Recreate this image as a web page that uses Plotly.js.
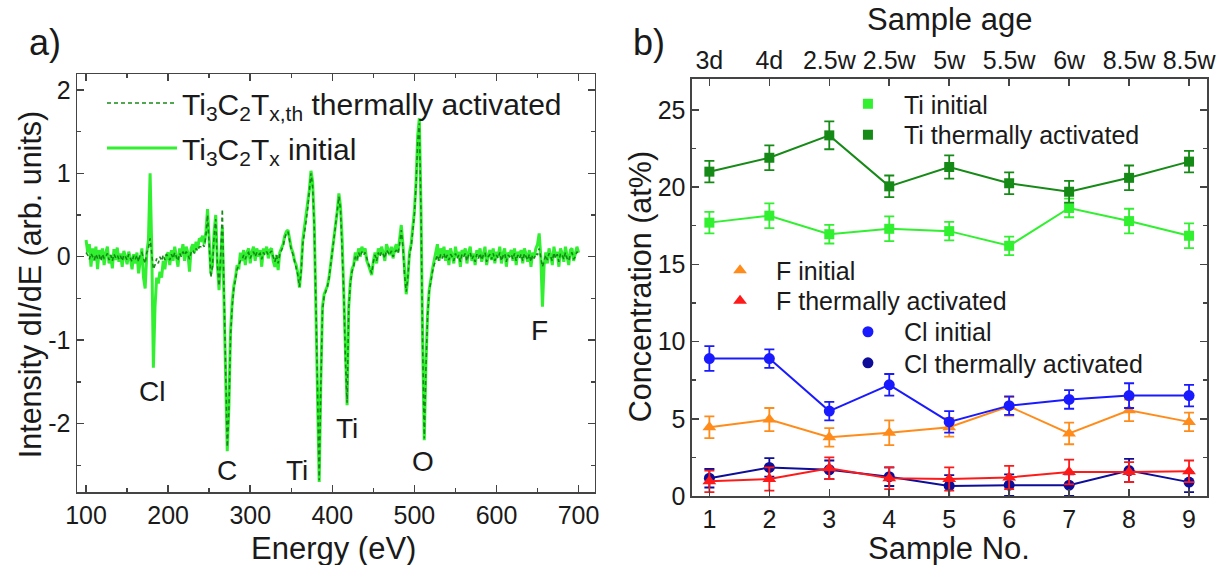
<!DOCTYPE html>
<html>
<head>
<meta charset="utf-8">
<script src="https://cdn.plot.ly/plotly-3.0.1.min.js"></script>
<style>html,body{margin:0;padding:0;background:#fff;}#chart{width:1217px;height:565px;}</style>
</head>
<body>
<div id="chart"></div>
<script>
// ---------- Panel a: AES derivative spectra (energy grid: 100 eV start, 2 eV step) ----------
const energyStart = 100;
const energyStep = 2;
const spectrumInitial = [
  0.20, 0.05, 0.15, -0.12, 0.10, -0.05, 0.12, -0.15, 0.08, -0.02,
  0.10, -0.10, 0.05, 0.12, -0.08, 0.02, -0.14, 0.09, -0.04, 0.11,
  -0.06, 0.04, -0.12, 0.07, 0.00, -0.09, 0.06, -0.02, -0.15, 0.03,
  -0.08, 0.05, -0.20, -0.05, 0.10, -0.25, -0.38, 0.05, 0.20, 1.00,
  0.10, -1.33, -0.60, -0.25, -0.32, -0.18, -0.25, -0.05, -0.15, 0.02,
  0.05, -0.10, 0.08, -0.05, 0.12, 0.00, -0.12, 0.10, 0.02, 0.15,
  -0.05, 0.12, 0.05, -0.18, 0.10, 0.15, 0.05, 0.18, 0.10, 0.22,
  0.20, 0.25, 0.15, 0.30, 0.57, 0.20, -0.20, -0.10, 0.30, 0.50,
  -0.10, -0.40, -0.05, 0.35, -0.50, -1.60, -2.33, -1.80, -0.90, -0.55,
  -0.35, -0.25, -0.10, -0.15, 0.05, -0.05, 0.08, -0.10, 0.05, 0.10,
  -0.08, 0.06, 0.12, -0.05, 0.10, 0.00, 0.08, -0.12, 0.10, 0.04,
  0.12, -0.02, 0.08, 0.10, -0.05, -0.12, 0.02, -0.16, 0.05, 0.10,
  0.15, 0.25, 0.30, 0.32, 0.20, 0.10, 0.05, -0.05, -0.10, -0.20,
  -0.37, -0.15, 0.20, 0.35, 0.45, 0.60, 0.80, 1.03, 0.90, 0.40,
  -0.50, -1.80, -2.70, -1.50, -0.60, -0.45, -0.40, -0.35, -0.25, -0.10,
  0.05, 0.25, 0.40, 0.55, 0.76, 0.60, 0.20, -0.40, -1.20, -1.78,
  -0.60, -0.30, -0.15, -0.10, 0.05, -0.05, 0.10, 0.00, 0.12, 0.05,
  0.10, -0.05, -0.10, -0.15, -0.22, -0.05, 0.05, -0.08, 0.10, 0.02,
  0.12, 0.05, -0.05, 0.15, 0.08, 0.02, 0.12, -0.02, 0.10, 0.15,
  0.05, 0.20, 0.38, 0.15, -0.20, -0.45, -0.25, 0.05, 0.15, 0.35,
  0.55, 0.90, 1.45, 1.66, 0.60, -1.00, -2.20, -1.30, -0.70, -0.40,
  -0.25, -0.15, -0.05, 0.05, 0.15, -0.05, 0.10, 0.00, 0.12, -0.05,
  0.08, -0.10, 0.10, 0.02, -0.08, 0.12, 0.00, 0.06, -0.12, 0.08,
  0.02, 0.10, -0.08, 0.05, 0.12, -0.05, 0.04, -0.10, 0.08, 0.00,
  0.10, -0.06, 0.05, 0.12, -0.10, 0.02, 0.08, -0.04, 0.10, -0.08,
  0.06, 0.00, 0.12, -0.08, 0.04, 0.10, -0.12, 0.05, 0.02, 0.08,
  -0.05, 0.10, -0.10, 0.06, 0.00, 0.08, -0.08, 0.10, 0.03, -0.06,
  0.08, -0.12, 0.05, 0.00, 0.10, 0.15, 0.28, 0.00, -0.60, -0.10,
  0.05, -0.08, 0.10, 0.02, -0.10, 0.12, 0.00, 0.06, -0.12, 0.10,
  0.04, -0.06, 0.12, 0.00, -0.10, 0.08, 0.10, -0.05, 0.02, 0.12,
  0.05
];
const spectrumThermal = [
  0.05, 0.02, -0.03, 0.04, 0.00, -0.04, 0.03, -0.02, 0.02, -0.05,
  0.03, -0.02, 0.00, 0.04, -0.04, 0.02, -0.05, 0.03, -0.01, 0.02,
  -0.03, 0.01, -0.05, 0.02, 0.00, -0.04, 0.03, -0.02, -0.06, 0.01,
  -0.03, 0.02, -0.06, 0.03, 0.05, -0.02, -0.08, 0.05, 0.10, 0.22,
  0.05, -0.15, -0.10, -0.02, -0.08, 0.00, -0.05, 0.02, -0.04, 0.03,
  0.00, -0.04, 0.03, -0.02, 0.05, 0.01, -0.05, 0.04, 0.00, 0.06,
  0.02, 0.06, 0.03, -0.03, 0.05, 0.08, 0.04, 0.10, 0.07, 0.12,
  0.12, 0.15, 0.12, 0.25, 0.50, 0.15, -0.25, -0.12, 0.25, 0.45,
  -0.10, -0.35, 0.00, 0.57, -0.30, -1.50, -2.28, -1.85, -0.95, -0.60,
  -0.38, -0.28, -0.15, -0.10, -0.05, -0.04, 0.02, -0.03, 0.03, 0.05,
  -0.02, 0.03, 0.06, 0.00, 0.05, 0.02, 0.04, -0.03, 0.05, 0.02,
  0.06, 0.02, 0.05, 0.07, 0.00, -0.06, 0.02, -0.08, 0.03, 0.08,
  0.12, 0.22, 0.28, 0.30, 0.18, 0.08, 0.03, -0.06, -0.12, -0.22,
  -0.36, -0.18, 0.15, 0.32, 0.42, 0.58, 0.78, 1.00, 0.85, 0.35,
  -0.55, -1.85, -2.68, -1.55, -0.65, -0.48, -0.42, -0.36, -0.26, -0.12,
  0.02, 0.22, 0.38, 0.52, 0.72, 0.56, 0.15, -0.45, -1.25, -1.75,
  -0.62, -0.32, -0.18, -0.12, 0.00, -0.04, 0.05, 0.00, 0.06, 0.02,
  0.05, -0.03, -0.08, -0.14, -0.20, -0.06, 0.02, -0.05, 0.05, 0.00,
  0.06, 0.03, -0.02, 0.08, 0.04, 0.02, 0.07, 0.00, 0.05, 0.08,
  0.04, 0.15, 0.32, 0.12, -0.22, -0.42, -0.25, 0.02, 0.12, 0.32,
  0.50, 0.85, 1.38, 1.60, 0.55, -1.05, -2.18, -1.35, -0.72, -0.42,
  -0.28, -0.18, -0.10, -0.04, 0.02, -0.05, 0.03, -0.02, 0.04, -0.03,
  0.02, -0.04, 0.03, 0.00, -0.05, 0.04, -0.02, 0.02, -0.06, 0.03,
  0.00, 0.04, -0.05, 0.02, 0.05, -0.03, 0.01, -0.06, 0.03, -0.02,
  0.04, -0.04, 0.02, 0.05, -0.06, 0.00, 0.03, -0.03, 0.04, -0.05,
  0.02, -0.02, 0.05, -0.05, 0.01, 0.04, -0.06, 0.02, 0.00, 0.03,
  -0.03, 0.04, -0.05, 0.02, -0.02, 0.03, -0.05, 0.04, 0.00, -0.04,
  0.03, -0.06, 0.02, -0.02, 0.04, 0.02, 0.10, -0.02, -0.12, -0.05,
  0.02, -0.04, 0.04, 0.00, -0.05, 0.05, -0.02, 0.03, -0.06, 0.04,
  0.02, -0.03, 0.05, -0.02, -0.05, 0.03, 0.05, -0.03, 0.00, 0.06,
  0.02
];
const intensityTicks = [-2, -1, 0, 1, 2];
const intensityTickText = ['-2', '-1', '0', '1', '2'];
const peakLabels = ['Cl', 'C', 'Ti', 'Ti', 'O', 'F'];
const peakLabelEnergy = [180, 272, 357, 418, 511, 653];
const peakLabelLevel = [-1.61, -2.56, -2.56, -2.06, -2.45, -0.88];

// ---------- Panel b: concentrations ----------
const sampleNo = [1, 2, 3, 4, 5, 6, 7, 8, 9];
const sampleAge = ['3d', '4d', '2.5w', '2.5w', '5w', '5.5w', '6w', '8.5w', '8.5w'];
const tiInitial = [17.7, 18.15, 16.95, 17.3, 17.15, 16.2, 18.65, 17.8, 16.85];
const tiInitialErr = [0.7, 0.8, 0.6, 0.8, 0.6, 0.6, 0.6, 0.8, 0.8];
const tiThermal = [21.0, 21.9, 23.35, 20.05, 21.3, 20.25, 19.7, 20.6, 21.65];
const tiThermalErr = [0.7, 0.8, 0.9, 0.7, 0.75, 0.7, 0.7, 0.8, 0.7];
const fInitial = [4.45, 4.95, 3.8, 4.1, 4.45, 5.8, 4.05, 5.55, 4.8];
const fInitialErr = [0.7, 0.75, 0.6, 0.8, 0.6, 0.6, 0.7, 0.7, 0.6];
const fThermal = [0.95, 1.1, 1.8, 1.15, 1.1, 1.2, 1.55, 1.55, 1.6];
const fThermalErr = [0.7, 0.75, 0.7, 0.7, 0.75, 0.75, 0.8, 0.65, 0.7];
const clInitial = [8.9, 8.9, 5.5, 7.2, 4.8, 5.85, 6.25, 6.5, 6.5];
const clInitialErr = [0.8, 0.6, 0.6, 0.7, 0.7, 0.6, 0.6, 0.8, 0.7];
const clThermal = [1.15, 1.85, 1.7, 1.25, 0.65, 0.7, 0.7, 1.65, 0.9];
const clThermalErr = [0.6, 0.6, 0.6, 0.6, 0.7, 0.7, 0.7, 0.75, 0.65];

const C = {
  green: '#30f030', dkgreen: '#168a16', blue: '#1a1aff', navy: '#0d0d99',
  orange: '#ff8c1a', red: '#ff1a1a', axis: '#444', text: '#1a1a1a'
};
const FONT = 'Liberation Sans, Arial, Helvetica, sans-serif';

const traces = [];
// panel a
traces.push({
  type: 'scatter', mode: 'lines', x0: energyStart, dx: energyStep, y: spectrumInitial,
  xaxis: 'x', yaxis: 'y', name: 'Ti<sub>3</sub>C<sub>2</sub>T<sub>x</sub> initial',
  line: {color: C.green, width: 3}, legend: 'legend2'
});
traces.push({
  type: 'scatter', mode: 'lines', x0: energyStart, dx: energyStep, y: spectrumThermal,
  xaxis: 'x', yaxis: 'y', name: 'Ti<sub>3</sub>C<sub>2</sub>T<sub>x,th</sub> thermally activated',
  line: {color: C.dkgreen, width: 1.6, dash: '4px,3px'}, legend: 'legend'
});

function series(y, err, color, symbol, size, name, legend) {
  traces.push({
    type: 'scatter', mode: 'lines', x: sampleNo, y: y, xaxis: 'x2', yaxis: 'y2',
    line: {color: color, width: 2}, showlegend: false, hoverinfo: 'skip'
  });
  traces.push({
    type: 'scatter', mode: 'markers', x: sampleNo, y: y, xaxis: 'x2', yaxis: 'y2',
    name: name, legend: legend,
    marker: {color: color, symbol: symbol, size: size},
    error_y: {type: 'data', array: err, visible: true, color: color, thickness: 1.8, width: 5}
  });
}
series(tiInitial, tiInitialErr, C.green, 'square', 10, 'Ti initial', 'legend3');
series(tiThermal, tiThermalErr, C.dkgreen, 'square', 10, 'Ti thermally activated', 'legend4');
series(fInitial, fInitialErr, C.orange, 'triangle-up', 12, 'F initial', 'legend5');
series(clInitial, clInitialErr, C.blue, 'circle', 11, 'Cl initial', 'legend7');
series(clThermal, clThermalErr, C.navy, 'circle', 11, 'Cl thermally activated', 'legend8');
series(fThermal, fThermalErr, C.red, 'triangle-up', 12, 'F thermally activated', 'legend6');
// invisible carrier so the top "Sample age" axis gets drawn
traces.push({type: 'scatter', mode: 'markers', x: sampleNo, y: tiInitial, xaxis: 'x3', yaxis: 'y2',
  marker: {opacity: 0}, showlegend: false, hoverinfo: 'skip'});

const axBase = {
  showline: true, mirror: 'ticks', linecolor: C.axis, linewidth: 1.5,
  ticks: 'inside', ticklen: 7, tickwidth: 1.5, tickcolor: C.axis,
  showgrid: false, zeroline: false, automargin: false,
  tickfont: {size: 25, color: C.text, family: FONT}
};
const minor = (d) => ({ticks: 'inside', ticklen: 4, tickwidth: 1.5, tickcolor: C.axis, dtick: d, showgrid: false});

const legBase = {bgcolor: 'rgba(0,0,0,0)', borderwidth: 0, xanchor: 'left', yanchor: 'top',
  font: {size: 25, color: C.text, family: FONT}, itemclick: false, itemwidth: 62};
const legA = {font: {size: 30, color: C.text, family: FONT}, itemwidth: 70};

const annotations = [];
for (let i = 0; i < peakLabels.length; i++) {
  annotations.push({xref: 'x', yref: 'y', x: peakLabelEnergy[i], y: peakLabelLevel[i], text: peakLabels[i],
    showarrow: false, font: {size: 28, color: C.text, family: FONT}});
}
const paperText = (x, y, text, size, angle) => ({xref: 'paper', yref: 'paper', x: x, y: y, text: text,
  showarrow: false, xanchor: 'center', yanchor: 'middle', textangle: angle || 0,
  font: {size: size, color: C.text, family: FONT}});
annotations.push(paperText(0.274, 0.030, 'Energy (eV)', 31));
annotations.push(paperText(0.780, 0.030, 'Sample No.', 31));
annotations.push(paperText(0.780, 0.966, 'Sample age', 31));
annotations.push(paperText(0.0247, 0.497, 'Intensity dI/dE (arb. units)', 30.5, -90));
annotations.push(paperText(0.526, 0.492, 'Concentration (at%)', 30.5, -90));
annotations.push(paperText(0.037, 0.925, 'a)', 36));
annotations.push(paperText(0.533, 0.925, 'b)', 36));

const layout = {
  width: 1217, height: 565, margin: {l: 0, r: 0, t: 0, b: 0},
  paper_bgcolor: '#fff', plot_bgcolor: '#fff', font: {family: FONT, color: C.text},
  showlegend: true,
  xaxis: Object.assign({}, axBase, {domain: [0.0633, 0.4889], range: [89, 720], anchor: 'y',
    tick0: 100, dtick: 100, minor: minor(50)}),
  yaxis: Object.assign({}, axBase, {domain: [0.1292, 0.869], range: [-2.82, 2.19], anchor: 'x',
    tickmode: 'array', tickvals: intensityTicks, ticktext: intensityTickText, minor: minor(0.5)}),
  xaxis2: Object.assign({}, axBase, {domain: [0.5686, 0.9918], range: [0.71, 9.3], anchor: 'y2',
    tick0: 1, dtick: 1}),
  yaxis2: Object.assign({}, axBase, {domain: [0.1221, 0.8602], range: [0, 27], anchor: 'x2',
    tick0: 0, dtick: 5, minor: minor(2.5)}),
  xaxis3: {overlaying: 'x2', anchor: 'y2', side: 'top', range: [0.71, 9.3], tickmode: 'array',
    tickvals: sampleNo, ticktext: sampleAge, ticks: '', showline: false, showgrid: false, zeroline: false,
    automargin: false, ticklabelstandoff: 4, tickfont: {size: 25, color: C.text, family: FONT}},
  legend: Object.assign({}, legBase, legA, {x: 0.0838, y: 0.8637}),
  legend2: Object.assign({}, legBase, legA, {x: 0.0838, y: 0.7841}),
  legend3: Object.assign({}, legBase, {x: 0.6836, y: 0.8566}),
  legend4: Object.assign({}, legBase, {x: 0.6836, y: 0.8018}),
  legend5: Object.assign({}, legBase, {x: 0.5785, y: 0.5619}),
  legend6: Object.assign({}, legBase, {x: 0.5785, y: 0.5080}),
  legend7: Object.assign({}, legBase, {x: 0.6836, y: 0.4531}),
  legend8: Object.assign({}, legBase, {x: 0.6836, y: 0.3982}),
  annotations: annotations
};

Plotly.newPlot('chart', traces, layout, {staticPlot: true, displayModeBar: false});
</script>
</body>
</html>
